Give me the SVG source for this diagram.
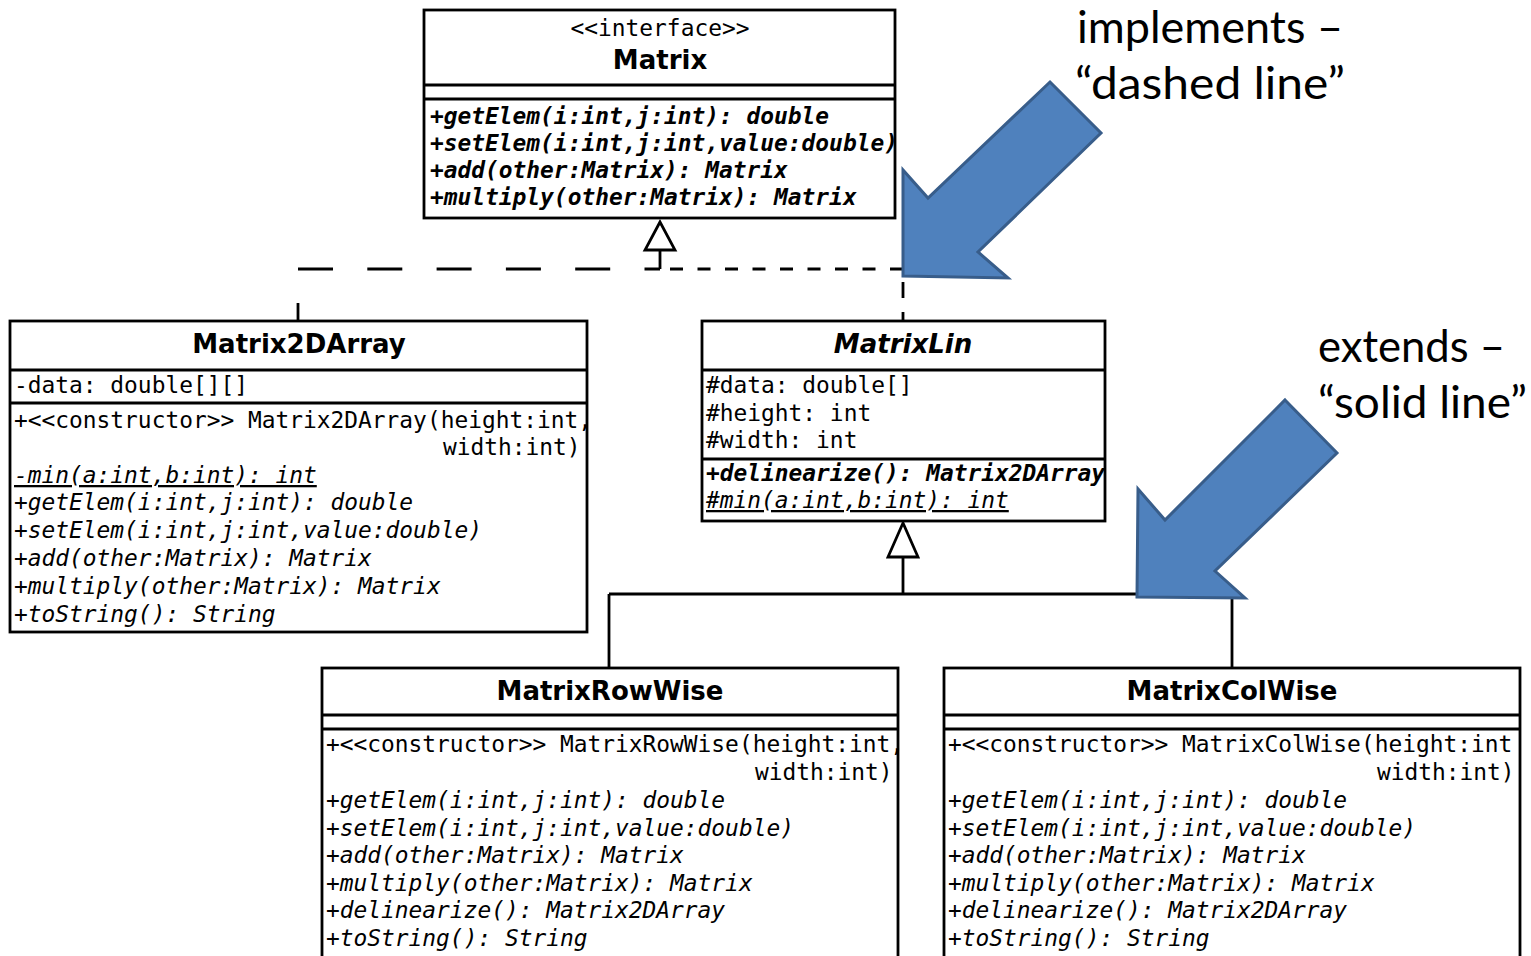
<svg xmlns="http://www.w3.org/2000/svg" width="1531" height="956" viewBox="0 0 1531 956">
<style>
.box{fill:#fff;stroke:#000;stroke-width:2.8}
.sep{stroke:#000;stroke-width:2.8;fill:none}
.title{font-family:"DejaVu Sans",sans-serif;font-weight:bold;font-size:26px;text-anchor:middle;fill:#000}
.m{font-family:"DejaVu Sans Mono",monospace;font-size:22.86px;fill:#000}
.it{font-style:italic}
.bi{font-style:italic;font-weight:bold}
.u{text-decoration:underline}
.mid{text-anchor:middle}
.conn{stroke:#000;stroke-width:2.8;fill:none}
.tri{fill:#fff;stroke:#000;stroke-width:2.8;stroke-linejoin:miter}
.lbl{font-family:Lato,"Open Sans",sans-serif;font-size:45px;fill:#000}
.barrow{fill:#4F81BD;stroke:#385D8A;stroke-width:3;stroke-linejoin:miter}
</style>

<g id="connectors">
  <!-- realization (dashed) -->
  <path class="conn" d="M298,269 H660" stroke-dasharray="35 34.3"/>
  <path class="conn" d="M660,269 H903" stroke-dasharray="13 14.5" stroke-dashoffset="17.5"/>
  <path class="conn" d="M903,269 V321" stroke-dasharray="16 14" stroke-dashoffset="17"/>
  <path class="conn" d="M298,303 V321"/>
  <path class="conn" d="M660,250 V269"/>
  <polygon class="tri" points="660,222 645,250 675,250"/>
  <!-- generalization (solid) -->
  <path class="conn" d="M903,557 V594 M609,594 H1232 M609,594 V668 M1232,594 V668"/>
  <polygon class="tri" points="903,523 888,557 918,557"/>
</g>

<g id="Matrix">
  <rect class="box" x="424" y="10" width="471" height="208"/>
  <path class="sep" d="M424,85 H895 M424,99 H895"/>
  <text class="m mid" x="660" y="36">&lt;&lt;interface&gt;&gt;</text>
  <text class="title" x="660" y="69">Matrix</text>
  <text class="m bi" x="430" y="124">+getElem(i:int,j:int): double</text>
  <text class="m bi" x="430" y="151">+setElem(i:int,j:int,value:double)</text>
  <text class="m bi" x="430" y="178">+add(other:Matrix): Matrix</text>
  <text class="m bi" x="430" y="205">+multiply(other:Matrix): Matrix</text>
</g>

<g id="Matrix2DArray">
  <rect class="box" x="10" y="321" width="577" height="311"/>
  <path class="sep" d="M10,370 H587 M10,403 H587"/>
  <text class="title" x="299" y="353">Matrix2DArray</text>
  <text class="m" x="14" y="393">-data: double[][]</text>
  <text class="m" x="14" y="428">+&lt;&lt;constructor&gt;&gt; Matrix2DArray(height:int,</text>
  <text class="m" x="443" y="455">width:int)</text>
  <text class="m it u" x="14" y="483">-min(a:int,b:int): int</text>
  <text class="m it" x="14" y="510">+getElem(i:int,j:int): double</text>
  <text class="m it" x="14" y="538">+setElem(i:int,j:int,value:double)</text>
  <text class="m it" x="14" y="566">+add(other:Matrix): Matrix</text>
  <text class="m it" x="14" y="594">+multiply(other:Matrix): Matrix</text>
  <text class="m it" x="14" y="622">+toString(): String</text>
</g>

<g id="MatrixLin">
  <rect class="box" x="702" y="321" width="403" height="200"/>
  <path class="sep" d="M702,370 H1105 M702,459 H1105"/>
  <text class="title it" x="903" y="353">MatrixLin</text>
  <text class="m" x="706" y="393">#data: double[]</text>
  <text class="m" x="706" y="421">#height: int</text>
  <text class="m" x="706" y="448">#width: int</text>
  <text class="m bi" x="706" y="481">+delinearize(): Matrix2DArray</text>
  <text class="m it u" x="706" y="508">#min(a:int,b:int): int</text>
</g>

<g id="MatrixRowWise">
  <rect class="box" x="322" y="668" width="576" height="320"/>
  <path class="sep" d="M322,715 H898 M322,729 H898"/>
  <text class="title" x="610" y="700">MatrixRowWise</text>
  <text class="m" x="326" y="752">+&lt;&lt;constructor&gt;&gt; MatrixRowWise(height:int,</text>
  <text class="m" x="755" y="780">width:int)</text>
  <text class="m it" x="326" y="808">+getElem(i:int,j:int): double</text>
  <text class="m it" x="326" y="836">+setElem(i:int,j:int,value:double)</text>
  <text class="m it" x="326" y="863">+add(other:Matrix): Matrix</text>
  <text class="m it" x="326" y="891">+multiply(other:Matrix): Matrix</text>
  <text class="m it" x="326" y="918">+delinearize(): Matrix2DArray</text>
  <text class="m it" x="326" y="946">+toString(): String</text>
</g>

<g id="MatrixColWise">
  <rect class="box" x="944" y="668" width="576" height="320"/>
  <path class="sep" d="M944,715 H1520 M944,729 H1520"/>
  <text class="title" x="1232" y="700">MatrixColWise</text>
  <text class="m" x="948" y="752">+&lt;&lt;constructor&gt;&gt; MatrixColWise(height:int</text>
  <text class="m" x="1377" y="780">width:int)</text>
  <text class="m it" x="948" y="808">+getElem(i:int,j:int): double</text>
  <text class="m it" x="948" y="836">+setElem(i:int,j:int,value:double)</text>
  <text class="m it" x="948" y="863">+add(other:Matrix): Matrix</text>
  <text class="m it" x="948" y="891">+multiply(other:Matrix): Matrix</text>
  <text class="m it" x="948" y="918">+delinearize(): Matrix2DArray</text>
  <text class="m it" x="948" y="946">+toString(): String</text>
</g>

<g id="annotation-implements">
  <polygon class="barrow" points="1050,82 1101,133 978,252 1008,278 903,276 903,170 928,198"/>
  <text class="lbl" x="1077" y="43" textLength="266" lengthAdjust="spacingAndGlyphs">implements –</text>
  <text class="lbl" x="1075" y="99" textLength="270" lengthAdjust="spacingAndGlyphs">“dashed line”</text>
</g>

<g id="annotation-extends">
  <polygon class="barrow" points="1285,400 1337,453 1215,571 1245,598 1137,597 1138,489 1165,520"/>
  <text class="lbl" x="1318" y="362" textLength="187" lengthAdjust="spacingAndGlyphs">extends –</text>
  <text class="lbl" x="1318" y="418" textLength="209" lengthAdjust="spacingAndGlyphs">“solid line”</text>
</g>
</svg>
